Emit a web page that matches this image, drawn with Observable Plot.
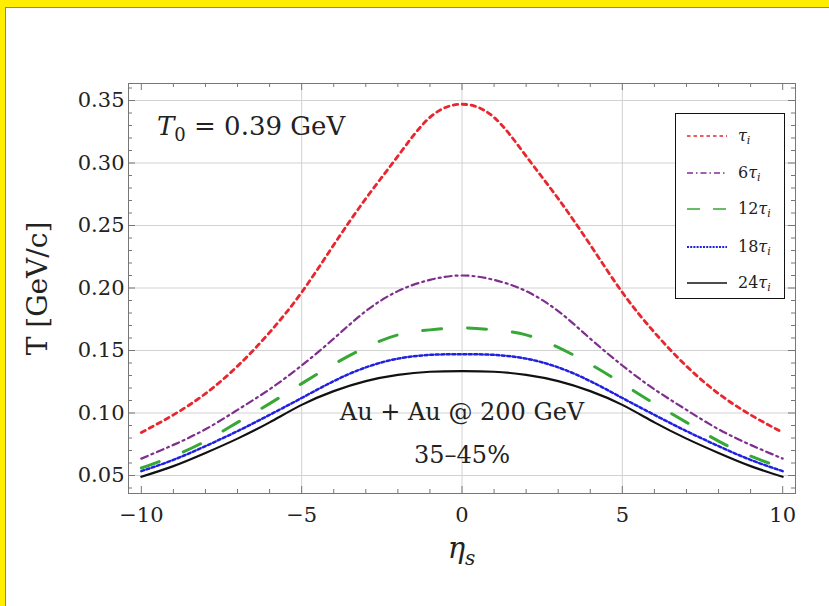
<!DOCTYPE html>
<html>
<head>
<meta charset="utf-8">
<script src="https://cdn.jsdelivr.net/npm/d3@7"></script>
<script src="https://cdn.jsdelivr.net/npm/@observablehq/plot@0.6"></script>
<style>
  html, body { margin: 0; padding: 0; }
  body { width: 829px; height: 606px; background: #ffee00; position: relative; overflow: hidden; font-family: "DejaVu Serif", serif; }
  #panel { position: absolute; left: 5px; top: 7px; right: 0; bottom: 0; background: #fff; border-top: 1px solid #8c8a60; border-left: 1px solid #8c8a60; }
  #chart { position: absolute; left: 0; top: 0; }
  #legend { position: absolute; left: 675px; top: 113px; width: 110px; height: 186px; border: 1px solid #111; background: #fff; box-sizing: border-box; }
  .row { position: absolute; left: 0; height: 20px; display: flex; align-items: center; }
  .row svg { margin-left: 11px; }
  .row span { position: absolute; left: 62px; font-size: 16px; white-space: nowrap; color: #222; line-height: 20px; }
  .row sub { font-size: 11px; vertical-align: -3px; line-height: 0; }
</style>
</head>
<body>
<div id="panel"></div>
<div id="chart"></div>
<div id="legend"></div>
<script>
// ---- data ----
const eta = [-10, -9, -8, -7, -6, -5, -4, -3, -2, -1, 0, 1, 2, 3, 4, 5, 6, 7, 8, 9, 10];
const tauMult = ["", "6", "12", "18", "24"];
const T_tau1  = [0.0844, 0.0985, 0.1155, 0.1375, 0.1645, 0.1965, 0.2345, 0.2715, 0.3055, 0.3365, 0.347, 0.3365, 0.3055, 0.2715, 0.2345, 0.1965, 0.1645, 0.1375, 0.1155, 0.0985, 0.0844];
const T_tau6  = [0.0635, 0.0745, 0.087, 0.1025, 0.119, 0.138, 0.1595, 0.1815, 0.1975, 0.2065, 0.210, 0.2065, 0.1975, 0.1815, 0.1595, 0.138, 0.119, 0.1025, 0.087, 0.0745, 0.0635];
const T_tau12 = [0.056, 0.0655, 0.0775, 0.0925, 0.1075, 0.1235, 0.139, 0.1525, 0.1625, 0.1665, 0.168, 0.1665, 0.1625, 0.1525, 0.139, 0.1235, 0.1075, 0.0925, 0.0775, 0.0655, 0.056];
const T_tau18 = [0.0535, 0.0625, 0.0735, 0.0855, 0.0985, 0.112, 0.1255, 0.1365, 0.1435, 0.1465, 0.147, 0.1465, 0.1435, 0.1365, 0.1255, 0.112, 0.0985, 0.0855, 0.0735, 0.0625, 0.0535];
const T_tau24 = [0.049, 0.0575, 0.068, 0.0795, 0.0925, 0.1065, 0.1175, 0.1255, 0.1305, 0.133, 0.1335, 0.133, 0.1305, 0.1255, 0.1175, 0.1065, 0.0925, 0.0795, 0.068, 0.0575, 0.049];
const xTickValues = [-10, -5, 0, 5, 10];
const xMinorValues = [-9, -8, -7, -6, -4, -3, -2, -1, 1, 2, 3, 4, 6, 7, 8, 9];
const xGridValues = [-5, 0, 5];
const yTickValues = [0.05, 0.10, 0.15, 0.20, 0.25, 0.30, 0.35];
const yMinorValues = [0.04, 0.06, 0.07, 0.08, 0.09, 0.11, 0.12, 0.13, 0.14, 0.16, 0.17, 0.18, 0.19, 0.21, 0.22, 0.23, 0.24, 0.26, 0.27, 0.28, 0.29, 0.31, 0.32, 0.33, 0.34, 0.36];
const annotSystem = "Au + Au @ 200 GeV";
const annotCentrality = "35–45%";
const yLabel = "T [GeV/c]";

// ---- styles ----
const seriesValues = [T_tau1, T_tau6, T_tau12, T_tau18, T_tau24];
const lineStyles = [
  {stroke: "#e8262e", width: 2.8, dash: "4.5,4.5", legendDash: "3.5,3", legendWidth: 1.6},
  {stroke: "#7e2f8e", width: 2.2, dash: "7,4,2,4", legendDash: "6,3,1.5,3", legendWidth: 1.6},
  {stroke: "#36a836", width: 3, dash: "19,26", legendDash: "13,13", legendWidth: 1.6},
  {stroke: "#2020e0", width: 2.5, dash: "3,2.5", legendDash: "2,1.2", legendWidth: 2},
  {stroke: "#111111", width: 2.2, dash: null, legendDash: null, legendWidth: 1.6}
];

const W = 829, H = 606, mL = 128, mR = 34, mT = 83, mB = 113;
const innerW = W - mL - mR, innerH = H - mT - mB;
const frameColor = "#777";
const gridColor = "#d2d2d2";

const lineMarks = seriesValues.map((vals, k) => {
  const rows = eta.map((e, i) => ({eta: e, T: vals[i]}));
  const s = lineStyles[k];
  return Plot.line(rows, {x: "eta", y: "T", curve: "natural", stroke: s.stroke, strokeWidth: s.width, strokeDasharray: s.dash});
});

const fmtX = d => (d < 0 ? "\u2212" + Math.abs(d) : String(d));
const fmtY = d3.format(".2f");

const chart = Plot.plot({
  width: W, height: H,
  marginLeft: mL, marginRight: mR, marginTop: mT, marginBottom: mB,
  style: {background: "transparent", fontFamily: "DejaVu Serif, serif", overflow: "visible"},
  x: {domain: [-10.4, 10.4]},
  y: {domain: [0.0356, 0.3636]},
  marks: [
    Plot.ruleY(yTickValues, {stroke: gridColor, strokeWidth: 1}),
    Plot.ruleX(xGridValues, {stroke: gridColor, strokeWidth: 1}),
    // inward frame ticks
    Plot.ruleX(xTickValues, {stroke: frameColor, insetTop: innerH - 7}),
    Plot.ruleX(xTickValues, {stroke: frameColor, insetBottom: innerH - 7}),
    Plot.ruleX(xMinorValues, {stroke: frameColor, insetTop: innerH - 4}),
    Plot.ruleX(xMinorValues, {stroke: frameColor, insetBottom: innerH - 4}),
    Plot.ruleY(yTickValues, {stroke: frameColor, insetRight: innerW - 7}),
    Plot.ruleY(yTickValues, {stroke: frameColor, insetLeft: innerW - 7}),
    Plot.ruleY(yMinorValues, {stroke: frameColor, insetRight: innerW - 4}),
    Plot.ruleY(yMinorValues, {stroke: frameColor, insetLeft: innerW - 4}),
    ...lineMarks,
    Plot.frame({stroke: frameColor, strokeWidth: 1}),
    Plot.axisX(xTickValues, {tickSize: 0, tickPadding: 14, fontSize: 21, fill: "#222", tickFormat: fmtX, label: null}),
    Plot.axisY(yTickValues, {tickSize: 0, tickPadding: 4, fontSize: 21, fill: "#222", tickFormat: fmtY, label: null}),
    Plot.text([yLabel], {frameAnchor: "left", dx: -90, rotate: -90, textAnchor: "middle", fontSize: 28, fill: "#222", text: d => d}),
    Plot.text([annotSystem], {x: 0, y: 0.1004, fontSize: 24, fill: "#222", text: d => d}),
    Plot.text([annotCentrality], {x: 0, y: 0.066, fontSize: 24, fill: "#222", text: d => d})
  ]
});
document.getElementById("chart").appendChild(chart);

// mixed-style labels (italic symbols with subscripts) as SVG text
const svg = d3.select(chart);
const t0 = svg.append("text").attr("x", 157).attr("y", 135).attr("text-anchor", "start")
  .attr("font-size", 26).attr("fill", "#222").attr("font-family", "DejaVu Serif, serif");
t0.append("tspan").attr("font-style", "italic").text("T");
t0.append("tspan").attr("font-size", 18).attr("dy", 6).text("0");
t0.append("tspan").attr("dy", -6).text(" = 0.39 GeV");

const xs = chart.scale("x");
const etaLab = svg.append("text").attr("x", xs.apply(0)).attr("y", 558)
  .attr("text-anchor", "middle").attr("font-size", 29).attr("fill", "#222")
  .attr("font-family", "DejaVu Serif, serif").attr("font-style", "italic");
etaLab.append("tspan").text("η");
etaLab.append("tspan").attr("font-size", 20).attr("dy", 7).text("s");

// legend
const legend = document.getElementById("legend");
const rowTops = [12, 49, 85, 123, 159];
tauMult.forEach((m, k) => {
  const s = lineStyles[k];
  const row = document.createElement("div");
  row.className = "row";
  row.style.top = rowTops[k] + "px";
  row.innerHTML = `<svg width="40" height="8"><line x1="0" x2="40" y1="4" y2="4" stroke="${s.stroke}" stroke-width="${s.legendWidth}" ${s.legendDash ? `stroke-dasharray="${s.legendDash}"` : ""}/></svg>` +
    `<span>${m}<i>τ</i><sub><i>i</i></sub></span>`;
  legend.appendChild(row);
});
</script>
</body>
</html>
